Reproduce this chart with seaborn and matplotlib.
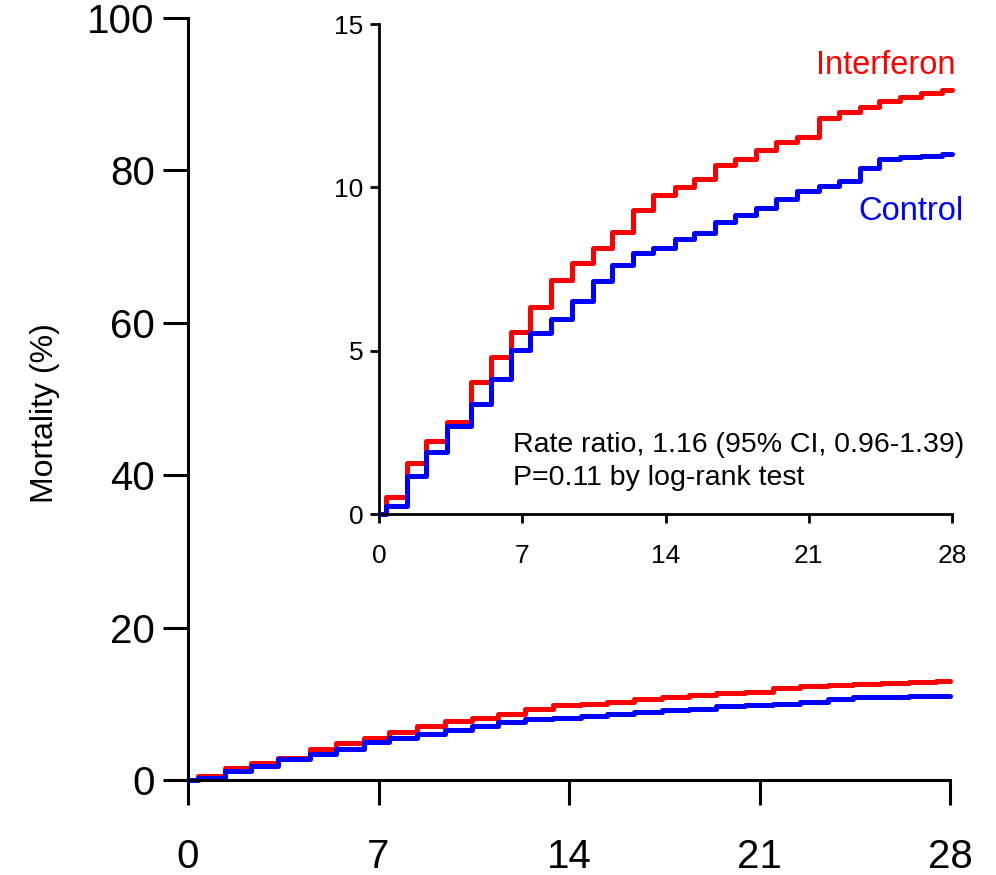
import numpy as np
import pandas as pd
import matplotlib
matplotlib.use("Agg")
import matplotlib.pyplot as plt
import seaborn as sns

# ---- data ----
step_days = [0.35, 1.35, 2.3, 3.3, 4.5, 5.45, 6.45, 7.4, 8.4, 9.45, 10.45, 11.4,
             12.4, 13.4, 14.45, 15.4, 16.4, 17.4, 18.4, 19.4, 20.45, 21.5, 22.5,
             23.5, 24.45, 25.45, 26.5, 27.5]
interferon = [0.51, 1.55, 2.22, 2.83, 4.04, 4.81, 5.57, 6.33, 7.15, 7.69, 8.15,
              8.63, 9.32, 9.78, 10.0, 10.24, 10.67, 10.88, 11.14, 11.39, 11.54,
              12.12, 12.32, 12.47, 12.63, 12.76, 12.9, 12.98]
control = [0.25, 1.17, 1.90, 2.70, 3.36, 4.12, 5.01, 5.55, 5.98, 6.52, 7.13,
           7.61, 8.0, 8.15, 8.43, 8.61, 8.93, 9.14, 9.37, 9.65, 9.88, 10.03,
           10.18, 10.59, 10.88, 10.93, 10.97, 11.03]
groups = ["Interferon", "Control"]
x_ticks = [0, 7, 14, 21, 28]
main_y_ticks = [0, 20, 40, 60, 80, 100]
inset_y_ticks = [0, 5, 10, 15]
annot_lines = ["Rate ratio, 1.16 (95% CI, 0.96-1.39)", "P=0.11 by log-rank test"]
y_label = "Mortality (%)"

colors = {"Interferon": "#ff0000", "Control": "#0000ff"}

rows = []
for g, vals in zip(groups, [interferon, control]):
    days = [0.0] + step_days + [28.0]
    vv = [0.0] + vals + [vals[-1]]
    for d, v in zip(days, vv):
        rows.append({"day": d, "value": v, "group": g})
df = pd.DataFrame(rows)

sns.set_style("ticks")
plt.rcParams["font.family"] = ["Liberation Sans", "DejaVu Sans"]
for key in ["text.color", "axes.labelcolor", "xtick.color", "ytick.color",
            "axes.edgecolor"]:
    plt.rcParams[key] = "black"

fig = plt.figure(figsize=(9.96, 8.75), dpi=100)

# ---- main axes ----
ax = fig.add_axes([188 / 996, 1 - 780 / 875, (950 - 188) / 996, (780 - 18) / 875])
sns.lineplot(data=df, x="day", y="value", hue="group", hue_order=groups,
             palette=colors, drawstyle="steps-post", linewidth=3.6,
             estimator=None, legend=False, ax=ax, clip_on=False)
ax.set_xlim(0, 28)
ax.set_ylim(0, 100)
ax.set_xticks(x_ticks)
ax.set_yticks(main_y_ticks)
ax.set_xlabel("")
ax.set_ylabel(y_label, fontsize=23)
ax.yaxis.set_label_coords(-0.168, 0.482)
for s in ["top", "right"]:
    ax.spines[s].set_visible(False)
for s in ["left", "bottom"]:
    ax.spines[s].set_linewidth(2.2)
ax.tick_params(axis="both", direction="out", length=18, width=2.2,
               labelsize=29, colors="black")
ax.tick_params(axis="y", pad=6)
ax.tick_params(axis="x", pad=24)
ax.set_facecolor("none")

# ---- inset axes ----
axi = fig.add_axes([379 / 996, 1 - 514 / 875, (952 - 379) / 996, (514 - 24) / 875])
sns.lineplot(data=df, x="day", y="value", hue="group", hue_order=groups,
             palette=colors, drawstyle="steps-post", linewidth=3.6,
             estimator=None, legend=False, ax=axi, clip_on=False)
axi.set_xlim(0, 28)
axi.set_ylim(0, 15)
axi.set_xticks(x_ticks)
axi.set_yticks(inset_y_ticks)
axi.set_xlabel("")
axi.set_ylabel("")
for s in ["top", "right"]:
    axi.spines[s].set_visible(False)
for s in ["left", "bottom"]:
    axi.spines[s].set_linewidth(2.0)
axi.tick_params(axis="both", direction="out", length=6.5, width=2.0,
                labelsize=19, colors="black")
axi.tick_params(axis="y", pad=4.5)
axi.tick_params(axis="x", pad=15)
axi.set_facecolor("white")

axi.text(28.19, 13.74, "Interferon", color=colors["Interferon"], fontsize=23.5,
         ha="right", va="center", clip_on=False)
axi.text(28.54, 9.27, "Control", color=colors["Control"], fontsize=23.5,
         ha="right", va="center", clip_on=False)
axi.text(6.56, 2.11, annot_lines[0], color="black", fontsize=20.5,
         ha="left", va="center", clip_on=False)
axi.text(6.56, 1.10, annot_lines[1], color="black", fontsize=20.5,
         ha="left", va="center", clip_on=False)

fig.savefig("out.png", dpi=100)
